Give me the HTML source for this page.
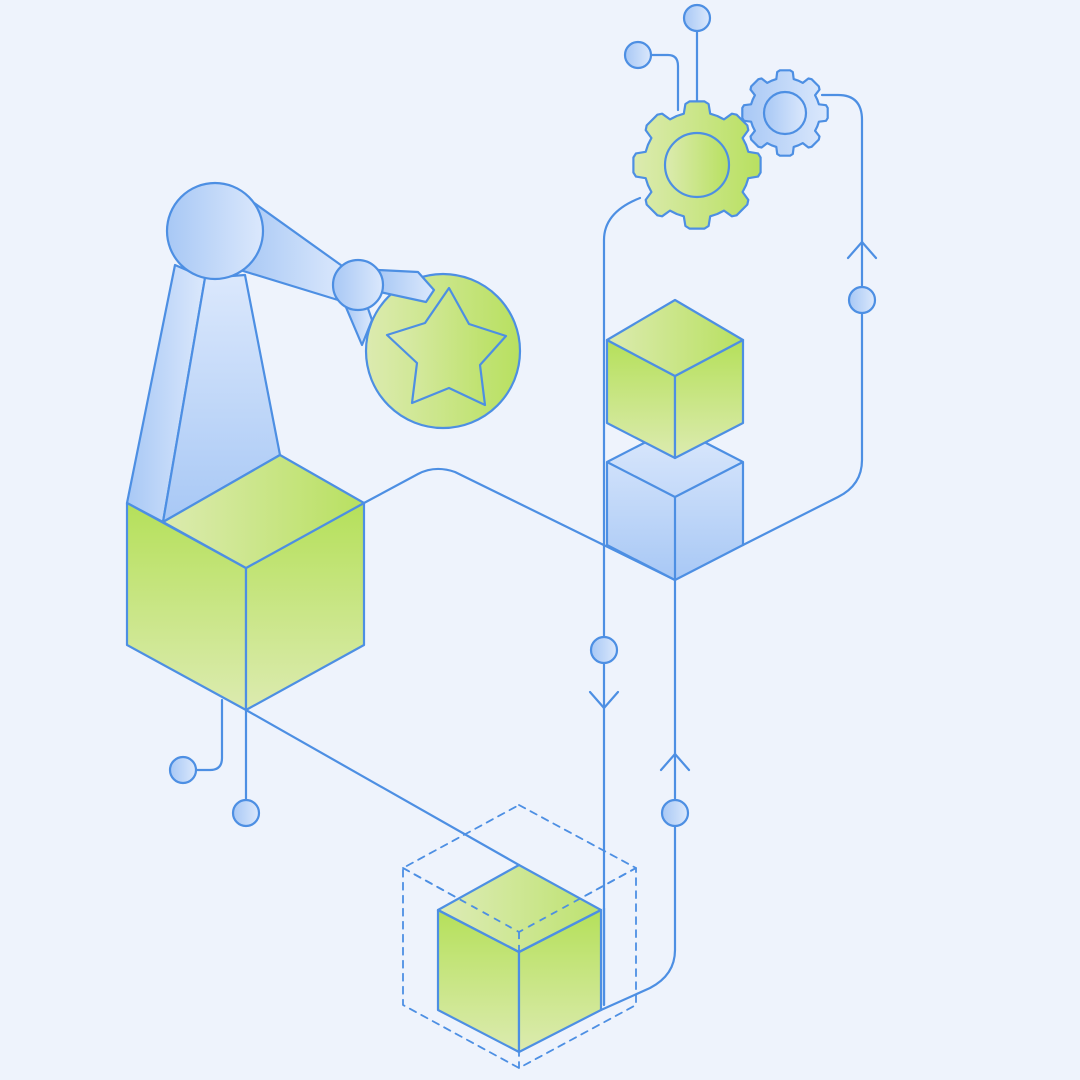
<!DOCTYPE html>
<html><head><meta charset="utf-8"><style>
html,body{margin:0;padding:0;background:#eef3fc;}
svg{display:block}
</style></head><body>
<svg id="s" width="1080" height="1080" viewBox="0 0 1080 1080" xmlns="http://www.w3.org/2000/svg">
<defs>
<linearGradient id="g" x1="0" y1="0" x2="0" y2="1"><stop offset="0" stop-color="#b5e05a"/><stop offset="1" stop-color="#dcebb0"/></linearGradient>
<linearGradient id="gh" x1="0" y1="0" x2="1" y2="0"><stop offset="0" stop-color="#dcebb0"/><stop offset="1" stop-color="#b8e060"/></linearGradient>
<linearGradient id="b" x1="0" y1="0" x2="1" y2="0"><stop offset="0" stop-color="#a8c8f5"/><stop offset="1" stop-color="#dbe8fc"/></linearGradient>
<linearGradient id="bv" x1="0" y1="0" x2="0" y2="1"><stop offset="0" stop-color="#dbe8fc"/><stop offset="1" stop-color="#a8c8f5"/></linearGradient>
</defs>
<rect width="1080" height="1080" fill="#eef3fc"/>
<g fill="none" stroke="#4d8fe3" stroke-width="2.2" stroke-linejoin="round" stroke-linecap="round">
<path d="M364,503 L418,474 Q435,465 455,472 L675,580"/>
<path d="M743,545 L838,497 Q862,485 862,460 L862,120 Q862,95 838,95 L822,95"/>
<path d="M604,1005 L604,240 Q604,212 640,198"/>
<path d="M675,580 L675,950 Q675,975 650,988 L601,1010"/>
<path d="M246,710 L519,865"/>
<path d="M222,700 L222,758 Q222,770 210,770 L196,770"/>
<path d="M246,710 L246,800"/>
<path d="M697,31 L697,110"/>
<path d="M651,55 L668,55 Q678,55 678,66 L678,110"/>
<path d="M848,258 L862,242 L876,258"/>
<path d="M590,692 L604,708 L618,692"/>
<path d="M661,770 L675,754 L689,770"/>
<g stroke-dasharray="7,6" stroke-width="1.8">
<path d="M519,805 L636,868 L636,1005 L519,1068 L403,1005 L403,868 Z"/>
<path d="M403,868 L519,932 L636,868 M519,932 L519,1068"/>
</g>
</g>
<g stroke="#4d8fe3" stroke-width="2.2" stroke-linejoin="round">
<polygon points="127,503 163,522 205,278 175,265" fill="url(#b)"/>
<polygon points="163,522 280,455 245,275 205,278" fill="url(#bv)"/>
<polygon points="250,200 345,268 338,300 240,270" fill="url(#b)"/>
<polygon points="345,305 362,345 372,320 365,300" fill="url(#b)"/>
<circle cx="443" cy="351" r="77" fill="url(#gh)"/>
<polygon points="449,288 469,324 506,336 480,365 485,405 449,388 412,403 417,363 387,335 425,323" fill="url(#gh)"/>
<polygon points="378,270 418,272 434,290 426,302 380,292" fill="url(#b)"/>
<circle cx="215" cy="231" r="48" fill="url(#b)"/>
<circle cx="358" cy="285" r="25" fill="url(#b)"/>
<polygon points="127,503 246,568 246,710 127,645" fill="url(#g)"/>
<polygon points="246,568 364,503 364,645 246,710" fill="url(#g)"/>
<polygon points="163,522 280,455 364,503 246,568" fill="url(#gh)"/>
<polygon points="607,462 675,427 743,462 743,545 675,580 607,545" fill="url(#bv)"/>
<path d="M607,462 L675,497 L743,462 M675,497 L675,580" fill="none"/>
<polygon points="607,340 675,376 675,458 607,423" fill="url(#g)"/>
<polygon points="675,376 743,340 743,423 675,458" fill="url(#g)"/>
<polygon points="607,340 675,300 743,340 675,376" fill="url(#gh)"/>
<polygon points="438,910 519,952 519,1052 438,1010" fill="url(#g)"/>
<polygon points="519,952 601,910 601,1010 519,1052" fill="url(#g)"/>
<polygon points="438,910 519,865 601,910 519,952" fill="url(#gh)" fill-opacity="0.9"/>
<path d="M438,910 L519,952 L601,910" fill="none"/>
<path d="M604,1005 L604,908" fill="none"/>
<g fill="none" stroke-dasharray="7,6" stroke-width="1.8"><path d="M403,868 L519,932 L636,868 M519,932 L519,1052"/></g>
<path id="gb" fill="url(#b)"/>
<circle cx="785" cy="113" r="21" fill="url(#b)"/>
<path id="gg" fill="url(#gh)"/>
<circle cx="697" cy="165" r="32" fill="url(#gh)"/>
<g fill="url(#b)">
<circle cx="862" cy="300" r="13"/>
<circle cx="604" cy="650" r="13"/>
<circle cx="675" cy="813" r="13"/>
<circle cx="183" cy="770" r="13"/>
<circle cx="246" cy="813" r="13"/>
<circle cx="697" cy="18" r="13"/>
<circle cx="638" cy="55" r="13"/>
</g>
</g>
</svg>
<script>
function gear(cx,cy,ro,ri,n){var p=[],s=Math.PI*2/n;for(var i=0;i<n;i++){var a=i*s-Math.PI/2;var pts=[[ri,a-s*0.5],[ri,a-s*0.32],[ro*0.97,a-s*0.24],[ro,a-s*0.15],[ro,a+s*0.15],[ro*0.97,a+s*0.24],[ri,a+s*0.32]];pts.forEach(function(q){p.push((cx+q[0]*Math.cos(q[1])).toFixed(1)+","+(cy+q[0]*Math.sin(q[1])).toFixed(1));});}return "M"+p.join(" L")+"Z";}
document.getElementById("gg").setAttribute("d",gear(697,165,64,53,8));
document.getElementById("gb").setAttribute("d",gear(785,113,43,35,8));
</script>
</body></html>
